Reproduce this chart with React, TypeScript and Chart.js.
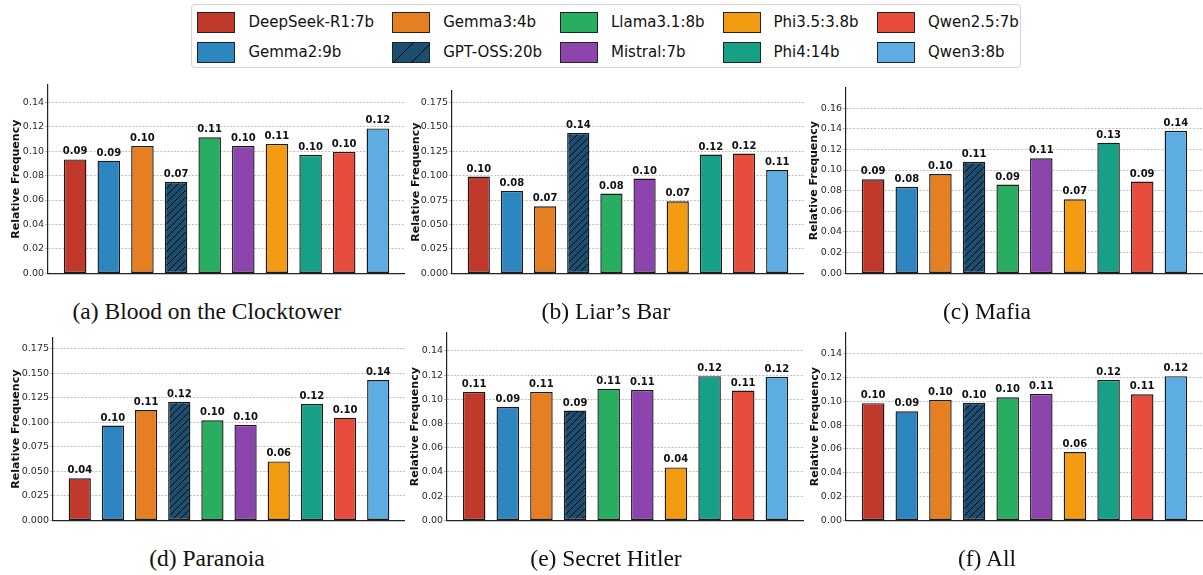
import React, { useEffect, useRef } from "react";
import { Chart, registerables } from "chart.js";

Chart.register(...registerables);

// ---------------- DATA ----------------
const models = [
  "DeepSeek-R1:7b",
  "Gemma2:9b",
  "Gemma3:4b",
  "GPT-OSS:20b",
  "Llama3.1:8b",
  "Mistral:7b",
  "Phi3.5:3.8b",
  "Phi4:14b",
  "Qwen2.5:7b",
  "Qwen3:8b",
];
const modelColors = [
  "#c0392b",
  "#2e86c1",
  "#e67e22",
  "#1b4f72",
  "#27ae60",
  "#8e44ad",
  "#f39c12",
  "#16a085",
  "#e74c3c",
  "#5dade2",
];
const hatchedModels = [false, false, false, true, false, false, false, false, false, false];

const bloodValues = [0.0932, 0.0922, 0.1043, 0.0749, 0.1113, 0.1043, 0.1059, 0.097, 0.0994, 0.1186];
const liarsBarValues = [0.099, 0.0844, 0.0686, 0.1436, 0.0817, 0.097, 0.0737, 0.1216, 0.1226, 0.1057];
const mafiaValues = [0.091, 0.0837, 0.0961, 0.108, 0.0859, 0.1114, 0.0716, 0.1265, 0.0888, 0.138];
const paranoiaValues = [0.0428, 0.0966, 0.1124, 0.1208, 0.1019, 0.0973, 0.06, 0.1185, 0.1047, 0.143];
const hitlerValues = [0.1061, 0.0936, 0.1061, 0.0907, 0.1088, 0.1077, 0.0437, 0.1191, 0.1072, 0.1186];
const allValues = [0.0984, 0.0915, 0.1011, 0.0987, 0.1033, 0.1061, 0.0573, 0.1179, 0.1058, 0.121];

const ticks2dp14 = ["0.00", "0.02", "0.04", "0.06", "0.08", "0.10", "0.12", "0.14"];
const ticks2dp16 = ["0.00", "0.02", "0.04", "0.06", "0.08", "0.10", "0.12", "0.14", "0.16"];
const ticks3dp = ["0.000", "0.025", "0.050", "0.075", "0.100", "0.125", "0.150", "0.175"];

const captions = [
  "(a) Blood on the Clocktower",
  "(b) Liar\u2019s Bar",
  "(c) Mafia",
  "(d) Paranoia",
  "(e) Secret Hitler",
  "(f) All",
];
const yTitle = "Relative Frequency";

// ---------------- LAYOUT ----------------
type PanelCfg = {
  values: number[];
  ticks: string[];
  caption: string;
  cx: number;
  left: number;
  right: number;
  top: number;
  bottom: number;
  titleX: number;
  capX: number;
  capY: number;
};

const panels: PanelCfg[] = [
  { values: bloodValues, ticks: ticks2dp14, caption: captions[0], cx: 0, left: 48, right: 405, top: 85, bottom: 276, titleX: 15, capX: 207, capY: 300 },
  { values: liarsBarValues, ticks: ticks3dp, caption: captions[1], cx: 400, left: 452, right: 804, top: 91, bottom: 276, titleX: 415, capX: 606, capY: 300 },
  { values: mafiaValues, ticks: ticks2dp16, caption: captions[2], cx: 800, left: 846, right: 1203, top: 88, bottom: 276, titleX: 813, capX: 987, capY: 300 },
  { values: paranoiaValues, ticks: ticks3dp, caption: captions[3], cx: 0, left: 53, right: 405, top: 338, bottom: 523, titleX: 15, capX: 207, capY: 547 },
  { values: hitlerValues, ticks: ticks2dp14, caption: captions[4], cx: 400, left: 447, right: 804, top: 333, bottom: 523, titleX: 414, capX: 606, capY: 547 },
  { values: allValues, ticks: ticks2dp14, caption: captions[5], cx: 800, left: 846, right: 1203, top: 333, bottom: 523, titleX: 814, capX: 987, capY: 547 },
];

const PAD_TOP = 10;
const PAD_BOTTOM = 4;
const BAR_W = 0.65;
const X_MARGIN = BAR_W / 2 + 0.05 * (models.length - 1 + BAR_W);

function makeHatch(ctx: CanvasRenderingContext2D, color: string) {
  const s = 7;
  const c = document.createElement("canvas");
  c.width = s;
  c.height = s;
  const g = c.getContext("2d")!;
  g.fillStyle = color;
  g.fillRect(0, 0, s, s);
  g.strokeStyle = "#000";
  g.lineWidth = 1;
  g.beginPath();
  g.moveTo(-1, s + 1);
  g.lineTo(s + 1, -1);
  g.moveTo(-1, 1);
  g.lineTo(1, -1);
  g.moveTo(s - 1, s + 1);
  g.lineTo(s + 1, s - 1);
  g.stroke();
  return ctx.createPattern(c, "repeat");
}

const valueLabelPlugin = {
  id: "valueLabels",
  afterDatasetsDraw(chart: any) {
    const ctx = chart.ctx as CanvasRenderingContext2D;
    const meta = chart.getDatasetMeta(0);
    const data = chart.data.datasets[0].data as { x: number; y: number }[];
    ctx.save();
    ctx.font = 'bold 10px "DejaVu Sans"';
    ctx.fillStyle = "#111";
    ctx.textAlign = "center";
    ctx.textBaseline = "alphabetic";
    meta.data.forEach((el: any, i: number) => {
      ctx.fillText(data[i].y.toFixed(2), el.x, el.y - 5);
    });
    ctx.restore();
  },
};

function Panel({ p }: { p: PanelCfg }) {
  const ref = useRef<HTMLCanvasElement | null>(null);
  const w = p.right - p.cx;
  const cy = p.top - PAD_TOP;
  const h = p.bottom - p.top + PAD_TOP + PAD_BOTTOM;

  useEffect(() => {
    const canvas = ref.current!;
    const ctx = canvas.getContext("2d")!;
    const bg = modelColors.map((c, i) => (hatchedModels[i] ? makeHatch(ctx, c) : c));
    const ymax = 1.3 * Math.max(...p.values);
    const titleFont = 11;
    const chart = new Chart(canvas, {
      type: "bar",
      data: {
        datasets: [
          {
            data: p.values.map((v, i) => ({ x: i, y: v })),
            backgroundColor: bg as any,
            borderColor: "#1a1a1a",
            borderWidth: 1.4,
            borderSkipped: false,
            barPercentage: 0.67,
            categoryPercentage: 1,
          } as any,
        ],
      },
      options: {
        animation: false,
        responsive: false,
        maintainAspectRatio: false,
        devicePixelRatio: 1,
        layout: { padding: { top: PAD_TOP, bottom: PAD_BOTTOM, left: 0, right: 0 } },
        plugins: { legend: { display: false }, tooltip: { enabled: false } },
        scales: {
          x: {
            type: "linear",
            offset: false,
            min: -X_MARGIN,
            max: models.length - 1 + X_MARGIN,
            ticks: { display: false },
            grid: { display: false, drawTicks: false, offset: false },
            border: { display: true, color: "#222", width: 1.2 },
            afterFit: (s: any) => {
              s.height = 0;
            },
          },
          y: {
            min: 0,
            max: ymax,
            afterBuildTicks: (s: any) => {
              s.ticks = p.ticks.map((t) => ({ value: parseFloat(t) }));
            },
            ticks: {
              callback: (_v: any, i: number) => p.ticks[i],
              font: { family: "DejaVu Sans", size: 9.5 },
              color: "#2a2a2a",
              padding: 1,
            },
            grid: {
              color: "rgba(0,0,0,0.32)",
              lineWidth: 0.8,
              tickLength: 3,
            },
            border: { display: true, color: "#222", width: 1.2, dash: [2, 1.5] },
            title: {
              display: true,
              text: yTitle,
              font: { family: "DejaVu Sans", size: titleFont, weight: "bold" },
              color: "#111",
              padding: { top: p.titleX - p.cx - (titleFont * 1.2) / 2 + 1.5, bottom: 0 },
            },
            afterFit: (s: any) => {
              s.width = p.left - p.cx;
            },
          },
        },
      } as any,
      plugins: [valueLabelPlugin],
    });
    return () => chart.destroy();
  }, []);

  return (
    <>
      <canvas
        ref={ref}
        width={w}
        height={h}
        style={{ position: "absolute", left: p.cx, top: cy, width: w, height: h }}
      />
      <div
        style={{
          position: "absolute",
          left: p.capX - 200,
          width: 400,
          top: p.capY,
          textAlign: "center",
          fontFamily: '"Liberation Serif", "Times New Roman", serif',
          fontSize: 23.5,
          lineHeight: "23.5px",
          color: "#111",
          whiteSpace: "nowrap",
        }}
      >
        {p.caption}
      </div>
    </>
  );
}

const legendColX = [196.4, 391.2, 559, 721.5, 876];
const legendRowY = [11, 41];

function LegendPatch({ color, hatch }: { color: string; hatch: boolean }) {
  return (
    <svg width={38} height={21} style={{ position: "absolute", left: 0, top: 0 }}>
      <defs>
        <clipPath id="lp">
          <rect x={0} y={0} width={38} height={21} />
        </clipPath>
      </defs>
      <rect x={0.5} y={0.5} width={37} height={20} fill={color} stroke="#222" strokeWidth={1} />
      {hatch ? (
        <g clipPath="url(#lp)" stroke="#000" strokeWidth={1}>
          <line x1={1} y1={21} x2={22} y2={0} />
          <line x1={19} y1={21} x2={40} y2={0} />
        </g>
      ) : null}
    </svg>
  );
}

function Legend() {
  return (
    <div
      style={{
        position: "absolute",
        left: 190.5,
        top: 4,
        width: 830,
        height: 64,
        border: "1px solid #d4d4d4",
        borderRadius: 4,
        background: "#fff",
        boxSizing: "border-box",
      }}
    >
      {models.map((m, i) => {
        const col = Math.floor(i / 2);
        const row = i % 2;
        const x = legendColX[col] - 190.5;
        const y = legendRowY[row] - 4;
        return (
          <div key={m} style={{ position: "absolute", left: x, top: y, height: 21, width: 200 }}>
            <LegendPatch color={modelColors[i]} hatch={hatchedModels[i]} />
            <div
              style={{
                position: "absolute",
                left: 51,
                top: 0,
                height: 21,
                lineHeight: "21px",
                fontFamily: '"DejaVu Sans"',
                fontSize: 15,
                color: "#111",
                whiteSpace: "nowrap",
              }}
            >
              {m}
            </div>
          </div>
        );
      })}
    </div>
  );
}

export default function App() {
  return (
    <div
      style={{
        position: "fixed",
        left: 0,
        top: 0,
        width: 1203,
        height: 575,
        background: "#fff",
        overflow: "hidden",
      }}
    >
      <Legend />
      {panels.map((p, i) => (
        <Panel key={i} p={p} />
      ))}
    </div>
  );
}
